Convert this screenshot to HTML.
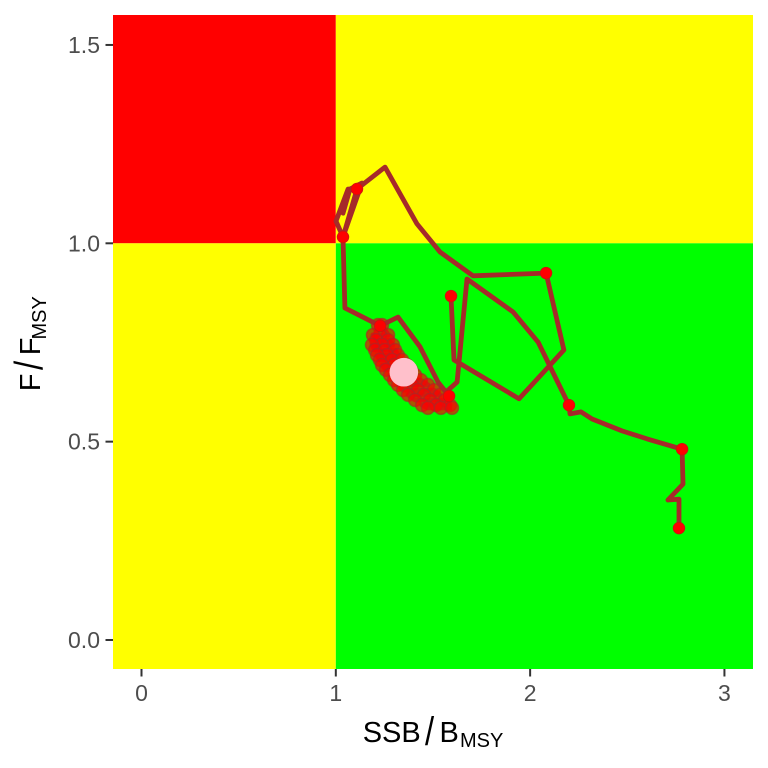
<!DOCTYPE html>
<html>
<head>
<meta charset="utf-8">
<style>
html,body{margin:0;padding:0;background:#fff;}
svg{display:block;}
text{font-family:"Liberation Sans",sans-serif;}
</style>
</head>
<body>
<svg id="chart" width="768" height="768" viewBox="0 0 768 768" xmlns="http://www.w3.org/2000/svg">
<g id="quadrants"></g>
<g id="cluster"></g>
<g id="traj"></g>
<g id="markers"></g>
<g id="mean"></g>
<g id="axes"></g>
<g fill="#000">
<text x="362.7" y="742" font-size="29">SSB</text>
<text transform="translate(425,745) scale(0.82,1)" font-size="40">/</text>
<text x="439.5" y="742" font-size="29">B</text>
<text x="460" y="747" font-size="20">MSY</text>
</g>
<g fill="#000">
<text transform="translate(40,391.3) rotate(-90)" font-size="29">F</text>
<text transform="translate(42.5,370) rotate(-90) scale(0.82,1)" font-size="40">/</text>
<text transform="translate(40,355.3) rotate(-90)" font-size="29">F</text>
<text transform="translate(46,339.5) rotate(-90)" font-size="20">MSY</text>
</g>
</svg>
<script>
const xTicks = [0, 1, 2, 3];
const yTicks = [0, 0.5, 1, 1.5];
const yTickLabels = ["0.0", "0.5", "1.0", "1.5"];
const xLimits = [-0.1467, 3.147];
const yLimits = [-0.0731, 1.5755];
const pathX = [2.766,2.766,2.709,2.787,2.782,2.602,2.473,2.319,2.262,2.205,2.200,2.041,1.912,1.675,1.624,1.573,1.583,1.526,1.433,1.320,1.228,1.047,1.037,1.001,1.063,1.037,1.073,1.135,1.037,1.109,1.253,1.418,1.536,1.706,2.082,2.174,1.943,1.608,1.593];
const pathY = [0.282,0.355,0.353,0.393,0.481,0.507,0.527,0.557,0.575,0.570,0.592,0.751,0.827,0.910,0.650,0.628,0.615,0.650,0.739,0.814,0.792,0.837,1.016,1.056,1.137,1.076,1.137,1.152,1.016,1.137,1.192,1.049,0.978,0.918,0.925,0.731,0.608,0.706,0.867];
const markerX = [2.766,2.782,2.200,1.583,1.228,1.037,1.109,2.082,1.593];
const markerY = [0.282,0.481,0.592,0.615,0.792,1.016,1.137,0.925,0.867];
const clusterX = [1.217,1.238,1.269,1.227,1.191,1.207,1.269,1.294,1.238,1.186,1.202,1.253,1.305,1.320,1.263,1.212,1.227,1.289,1.341,1.366,1.300,1.238,1.258,1.320,1.387,1.408,1.341,1.279,1.300,1.366,1.438,1.474,1.392,1.320,1.346,1.423,1.505,1.536,1.454,1.372,1.408,1.485,1.562,1.588,1.516,1.444,1.474,1.541,1.598];
const clusterY = [0.794,0.794,0.769,0.769,0.769,0.756,0.756,0.744,0.744,0.744,0.731,0.731,0.731,0.718,0.718,0.718,0.706,0.706,0.706,0.693,0.693,0.693,0.681,0.681,0.681,0.668,0.668,0.668,0.655,0.655,0.655,0.643,0.643,0.643,0.630,0.630,0.630,0.618,0.618,0.618,0.605,0.605,0.605,0.592,0.592,0.592,0.585,0.585,0.585];
const meanX = [1.35];
const meanY = [0.675];

const NS = 'http://www.w3.org/2000/svg';
const left = 113, right = 753, top_ = 15, bottom = 669;
function sx(v){ return left + (v - xLimits[0]) / (xLimits[1] - xLimits[0]) * (right - left); }
function sy(v){ return bottom - (v - yLimits[0]) / (yLimits[1] - yLimits[0]) * (bottom - top_); }
function mk(parent, tag, attrs){
  const el = document.createElementNS(NS, tag);
  for (const k in attrs) el.setAttribute(k, attrs[k]);
  parent.appendChild(el);
  return el;
}
function pts(xs, ys){ return xs.map((x, i) => sx(x).toFixed(1) + ',' + sy(ys[i]).toFixed(1)).join(' '); }

const q = document.getElementById('quadrants');
const cells = [
  ['quadrant-overfished-overfishing', xLimits[0], 1, 1, yLimits[1], '#ff0000'],
  ['quadrant-top-right', 1, 1, xLimits[1], yLimits[1], '#ffff00'],
  ['quadrant-bottom-left', xLimits[0], yLimits[0], 1, 1, '#ffff00'],
  ['quadrant-sustainable', 1, yLimits[0], xLimits[1], 1, '#00ff00']
];
cells.forEach(c => {
  const r = mk(q, 'rect', {x: sx(c[1]), y: sy(c[4]), width: sx(c[3]) - sx(c[1]), height: sy(c[2]) - sy(c[4]), fill: c[5]});
  
  
});

const cg = document.getElementById('cluster');
const cl = mk(cg, 'polyline', {points: pts(clusterX, clusterY), fill: 'none', stroke: '#a52a2a', 'stroke-width': 4.8, 'stroke-opacity': 0.8, 'stroke-linejoin': 'round'});


clusterX.forEach((x, i) => {
  const c = mk(cg, 'circle', {cx: sx(x), cy: sy(clusterY[i]), r: 6.5, fill: '#ff0000', 'fill-opacity': 0.65, stroke: '#a52a2a', 'stroke-opacity': 0.6, 'stroke-width': 1.5});
  
  
});

const tg = document.getElementById('traj');
const tl = mk(tg, 'polyline', {points: pts(pathX, pathY), fill: 'none', stroke: '#a52a2a', 'stroke-width': 4.8, 'stroke-linejoin': 'round', 'stroke-linecap': 'butt'});



const mg = document.getElementById('markers');
markerX.forEach((x, i) => {
  const c = mk(mg, 'circle', {cx: sx(x), cy: sy(markerY[i]), r: 5.8, fill: '#ff0000', stroke: '#c81414', 'stroke-width': 0.8});
  
  
});

const meanG = document.getElementById('mean');
meanX.forEach((x, i) => {
  const c = mk(meanG, 'circle', {cx: sx(x), cy: sy(meanY[i]), r: 14.3, fill: '#ffc0cb'});
  
  
});

const ag = document.getElementById('axes');
xTicks.forEach(v => {
  const t = mk(ag, 'line', {x1: sx(v), x2: sx(v), y1: bottom, y2: bottom + 7.5, stroke: '#333333', 'stroke-width': 2});
  
  
  const l = mk(ag, 'text', {x: sx(v), y: 701, 'font-size': 23, fill: '#4d4d4d', 'text-anchor': 'middle'});
  l.textContent = String(v);
  
  
});
yTicks.forEach((v, i) => {
  const t = mk(ag, 'line', {x1: left - 7.5, x2: left, y1: sy(v), y2: sy(v), stroke: '#333333', 'stroke-width': 2});
  
  
  const l = mk(ag, 'text', {x: 100, y: sy(v) + 8, 'font-size': 23, fill: '#4d4d4d', 'text-anchor': 'end'});
  l.textContent = yTickLabels[i];
  
  
});
</script>
</body>
</html>
